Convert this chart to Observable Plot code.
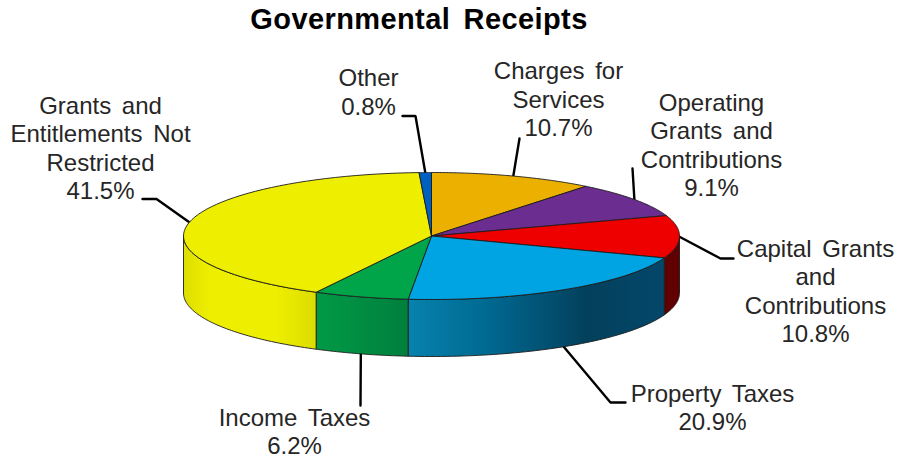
<!DOCTYPE html>
<html>
<head>
<meta charset="utf-8">
<script src="https://cdn.jsdelivr.net/npm/d3@7"></script>
<script src="https://cdn.jsdelivr.net/npm/@observablehq/plot@0.6"></script>
<style>
html,body{margin:0;padding:0;background:#fff}
#title{height:40px;text-align:center;font:bold 29px/39px "Liberation Sans",Arial,sans-serif;color:#000;word-spacing:5px;letter-spacing:0.4px;width:838px;white-space:nowrap}
svg{display:block}
</style>
</head>
<body>
<div id="title">Governmental Receipts</div>
<div id="chart"></div>
<script>
// Chart values, clockwise from twelve o'clock
const categories = ["Charges for\nServices", "Operating\nGrants and\nContributions", "Capital Grants\nand\nContributions", "Property Taxes", "Income Taxes", "Grants and\nEntitlements Not\nRestricted", "Other"];
const shares = [10.7, 9.1, 10.8, 20.9, 6.2, 41.5, 0.8];

// Styling
const topColors = ["#ecb100", "#6c2d91", "#ee0000", "#00a4e2", "#00a54a", "#eeee00", "#0060c0"];
const sideStops = [
  null, null,
  [[0, "#600000"], [1, "#600000"]],
  [[0, "#04476a"], [0.3, "#03405c"], [0.7, "#006a92"], [1, "#0782ae"]],
  [[0, "#007f3e"], [1, "#009a46"]],
  [[0, "#dcdc00"], [0.3, "#eeee00"], [0.8, "#eeee00"], [1, "#dede00"]],
  null
];

// Label and leader placement, in page pixels
const labelCenters = [[558, 98], [711, 144], [815, 290], [712, 406.5], [294, 430.5], [100, 147], [368, 91]];
const leaderBends = [
  [[519, 138]],
  [[632, 168]],
  [[720, 258], [733, 258]],
  [[610, 402], [625, 402]],
  [[360, 405]],
  [[156, 198.5], [142, 198.5]],
  [[415, 115.5], [402, 115.5]]
];

// Projection of the tilted disc
const cx = 431, cy = 235.5, rx = 248, ry = 63.5, depth = 57;
const rim = (deg, drop = 0) => {
  const a = deg * Math.PI / 180;
  return {x: cx + rx * Math.sin(a), y: cy - ry * Math.cos(a) + drop};
};
const arc = (a0, a1, drop = 0) => d3.range(0, 61).map(i => rim(a0 + (a1 - a0) * i / 60, drop));

const total = d3.sum(shares);
let running = 0;
const slices = shares.map((v, i) => {
  const a0 = running / total * 360;
  running += v;
  return {i, a0, a1: running / total * 360, mid: (a0 + running / total * 360) / 2};
});

const tops = slices.map(s => [{x: cx, y: cy}, ...arc(s.a0, s.a1), {x: cx, y: cy}]);
const sides = slices.filter(s => s.a1 > 90 && s.a0 < 270).map(s => {
  const a0 = Math.max(s.a0, 90), a1 = Math.min(s.a1, 270);
  const pts = [...arc(a0, a1), ...arc(a1, a0, depth)];
  return {i: s.i, pts: [...pts, pts[0]]};
});
const leaders = slices.map(s => {
  const front = s.mid > 120 && s.mid < 230;
  return [rim(s.mid, front ? depth : 0), ...leaderBends[s.i].map(([x, y]) => ({x, y}))];
});
const labels = slices.map(s => ({
  x: labelCenters[s.i][0], y: labelCenters[s.i][1],
  text: `${categories[s.i]}\n${shares[s.i].toFixed(1)}%`
}));

const defs = () => {
  const d = d3.create("svg:defs");
  sides.forEach(s => {
    const g = d.append("linearGradient").attr("id", `side${s.i}`)
      .attr("x1", 1).attr("x2", 0).attr("y1", 0).attr("y2", 0);
    sideStops[s.i].forEach(([o, c]) => g.append("stop").attr("offset", o).attr("stop-color", c));
  });
  return d.node();
};

const edge = {x: "x", y: "y", stroke: "#1c1c1c", strokeWidth: 0.9, strokeLinejoin: "round", curve: "linear"};

const chart = Plot.plot({
  width: 898, height: 419,
  margin: 0,
  x: {domain: [0, 898], axis: null},
  y: {domain: [459, 40], axis: null},
  style: {fontFamily: '"Liberation Sans", Arial, sans-serif', wordSpacing: "4px", background: "#fff"},
  marks: [
    defs,
    ...leaders.map(l => Plot.line(l, {x: "x", y: "y", stroke: "#000", strokeWidth: 2.4, curve: "linear", strokeLinejoin: "miter"})),
    ...sides.map(s => Plot.line(s.pts, {...edge, fill: `url(#side${s.i})`})),
    ...tops.map((t, i) => Plot.line(t, {...edge, fill: topColors[i]})),
    Plot.text(labels, {x: "x", y: "y", text: "text", fontSize: 24, lineHeight: 1.1875, fill: "#262626", textAnchor: "middle"})
  ]
});
document.getElementById("chart").appendChild(chart);
</script>
</body>
</html>
